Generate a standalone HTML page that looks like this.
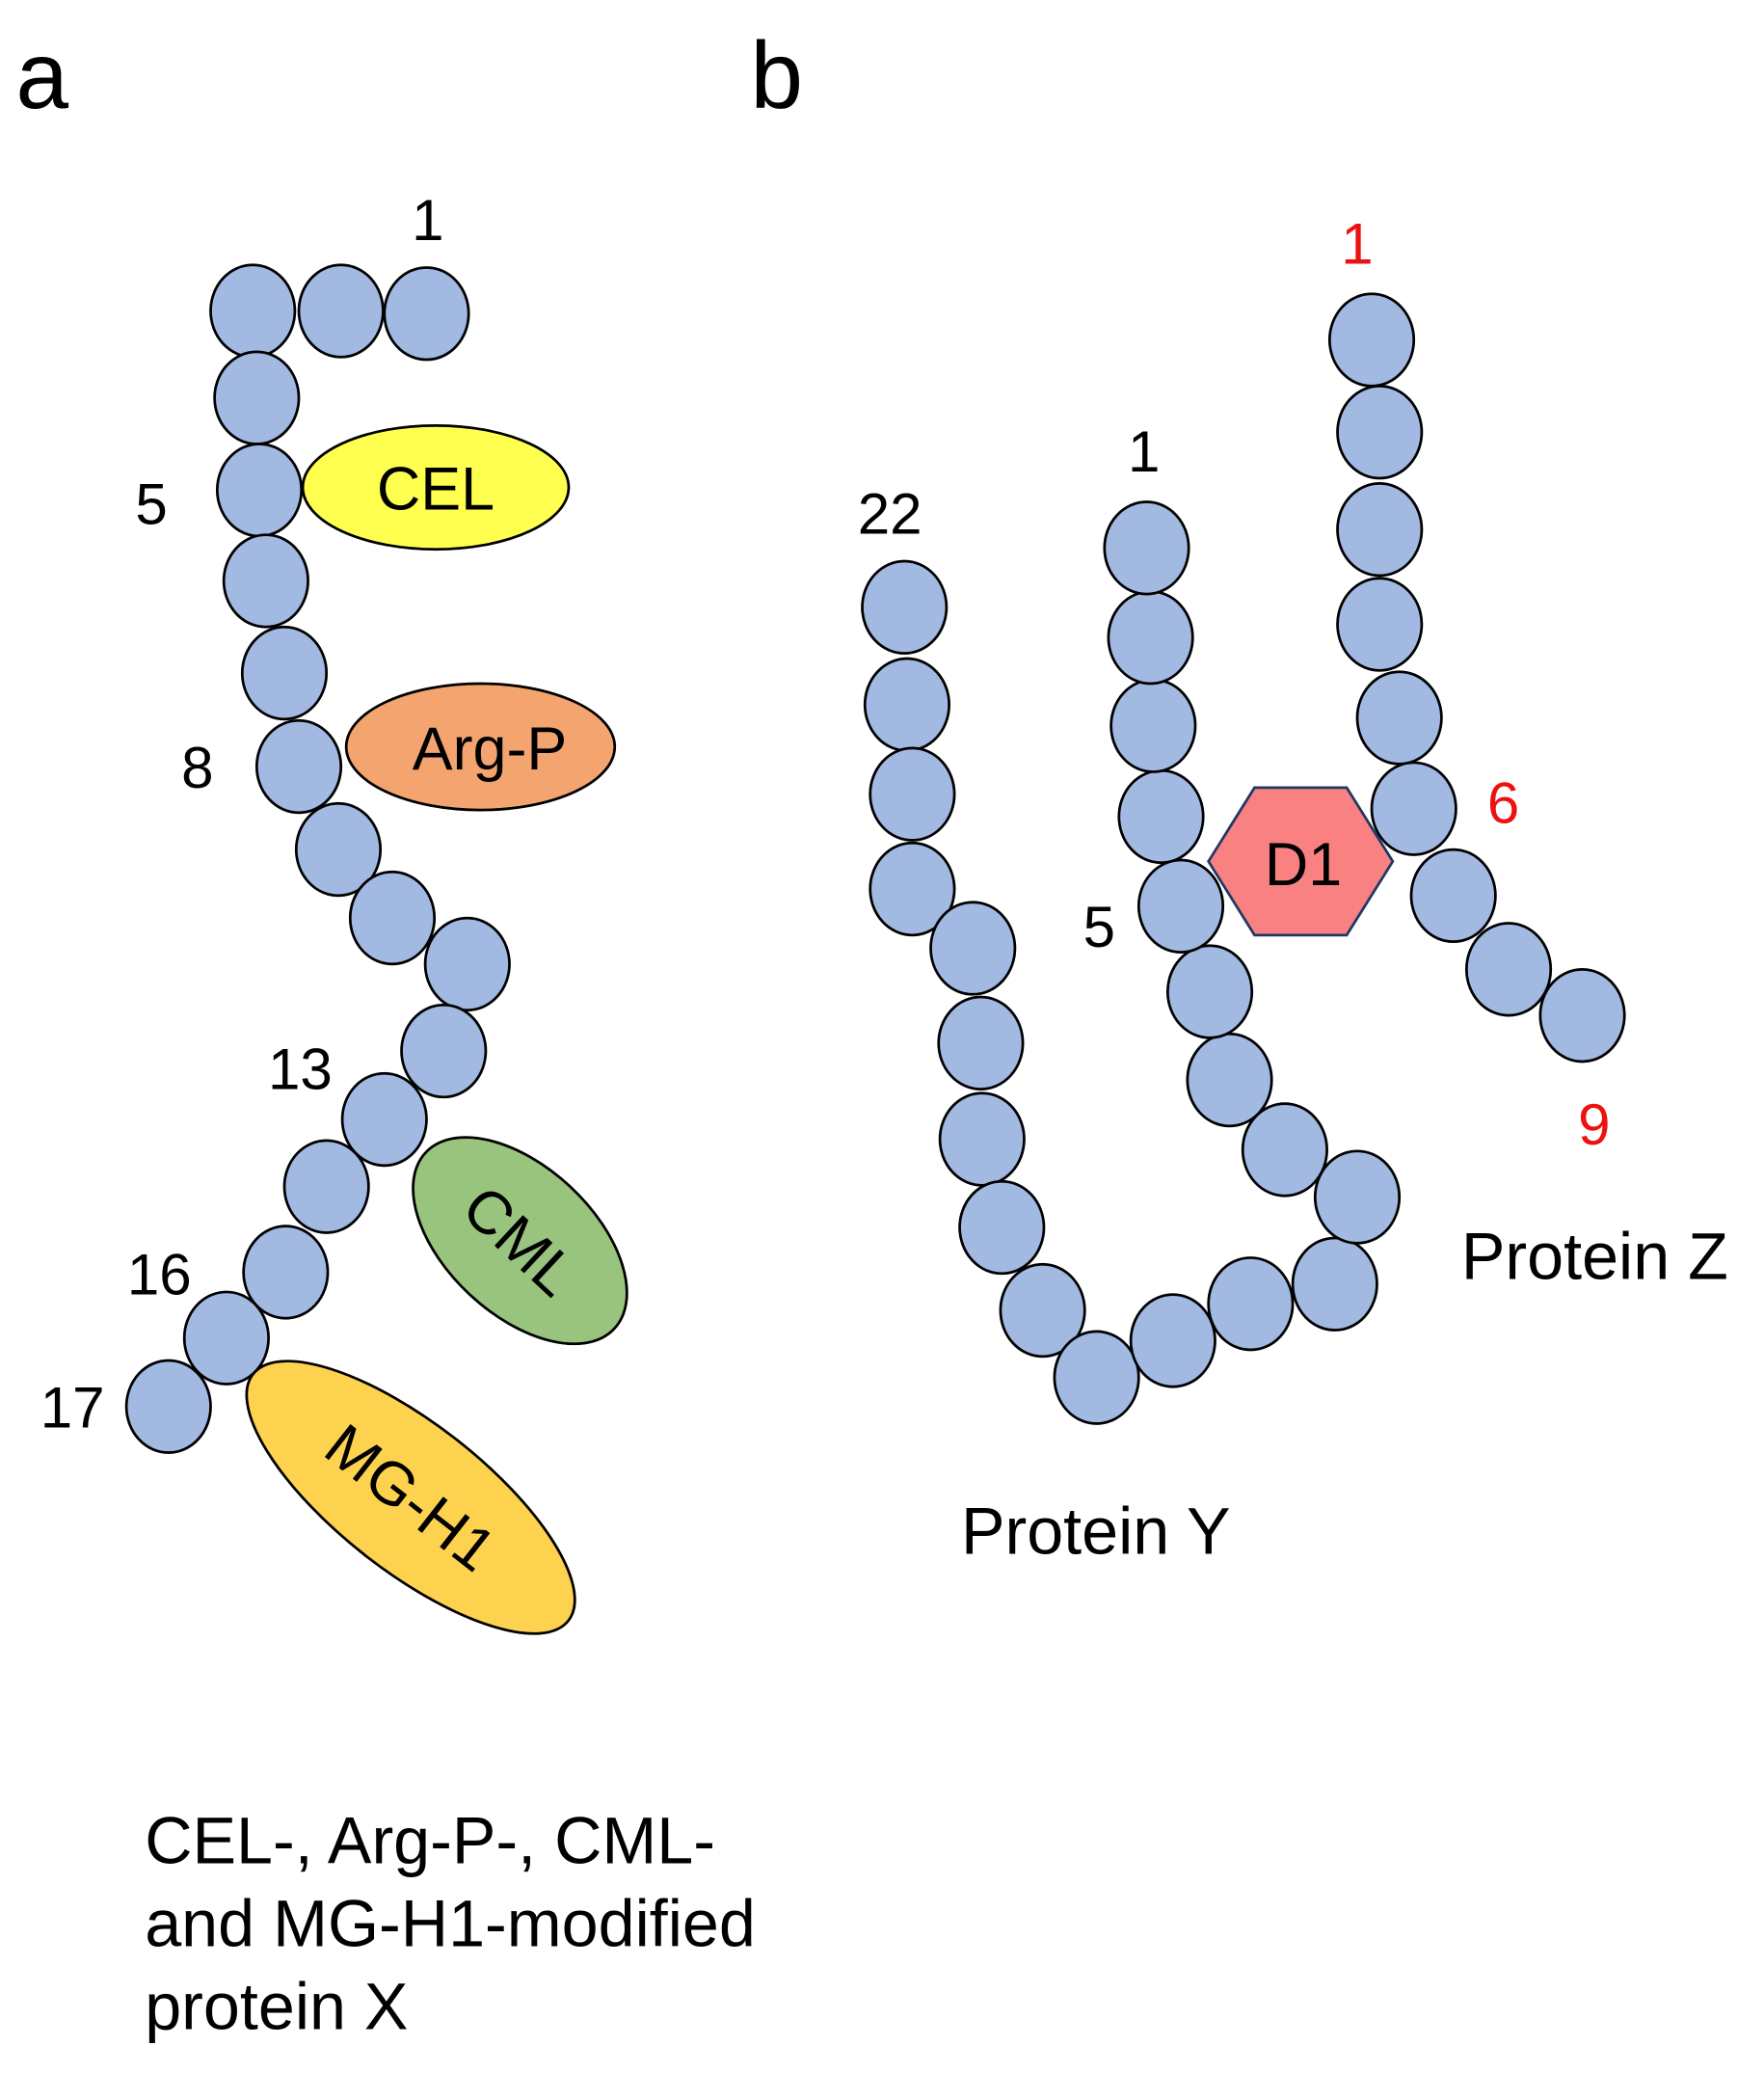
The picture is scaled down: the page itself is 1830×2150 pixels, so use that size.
<!DOCTYPE html>
<html><head><meta charset="utf-8"><style>
html,body{margin:0;padding:0;background:#fff;width:1830px;height:2150px;overflow:hidden}
svg{display:block}
text{font-family:"Liberation Sans",Arial,sans-serif}
</style></head><body>
<svg width="1830" height="2150" viewBox="0 0 1340 1574" xmlns="http://www.w3.org/2000/svg">
<g fill="#a2b9e2" stroke="#000" stroke-width="2">
<!-- protein X -->
<ellipse cx="192" cy="236" rx="32" ry="35"/><ellipse cx="259" cy="236" rx="32" ry="35"/><ellipse cx="324" cy="238" rx="32" ry="35"/>
<ellipse cx="195" cy="302" rx="32" ry="35"/><ellipse cx="197" cy="372" rx="32" ry="35"/><ellipse cx="202" cy="441" rx="32" ry="35"/>
<ellipse cx="216" cy="511" rx="32" ry="35"/><ellipse cx="227" cy="582" rx="32" ry="35"/><ellipse cx="257" cy="645" rx="32" ry="35"/>
<ellipse cx="298" cy="697" rx="32" ry="35"/><ellipse cx="355" cy="732" rx="32" ry="35"/><ellipse cx="337" cy="798" rx="32" ry="35"/>
<ellipse cx="292" cy="850" rx="32" ry="35"/><ellipse cx="248" cy="901" rx="32" ry="35"/><ellipse cx="217" cy="966" rx="32" ry="35"/>
<ellipse cx="172" cy="1016" rx="32" ry="35"/><ellipse cx="128" cy="1068" rx="32" ry="35"/>
<!-- protein Y -->
<ellipse cx="687" cy="461" rx="32" ry="35"/><ellipse cx="689" cy="535" rx="32" ry="35"/><ellipse cx="693" cy="603" rx="32" ry="35"/>
<ellipse cx="693" cy="675" rx="32" ry="35"/><ellipse cx="739" cy="720" rx="32" ry="35"/><ellipse cx="745" cy="792" rx="32" ry="35"/>
<ellipse cx="746" cy="865" rx="32" ry="35"/><ellipse cx="761" cy="932" rx="32" ry="35"/><ellipse cx="792" cy="995" rx="32" ry="35"/>
<ellipse cx="833" cy="1046" rx="32" ry="35"/><ellipse cx="891" cy="1018" rx="32" ry="35"/><ellipse cx="950" cy="990" rx="32" ry="35"/>
<ellipse cx="1014" cy="975" rx="32" ry="35"/><ellipse cx="1031" cy="909" rx="32" ry="35"/><ellipse cx="976" cy="873" rx="32" ry="35"/>
<ellipse cx="934" cy="820" rx="32" ry="35"/><ellipse cx="919" cy="753" rx="32" ry="35"/><ellipse cx="897" cy="688" rx="32" ry="35"/>
<ellipse cx="882" cy="620" rx="32" ry="35"/><ellipse cx="876" cy="551" rx="32" ry="35"/><ellipse cx="874" cy="484" rx="32" ry="35"/>
<ellipse cx="871" cy="416" rx="32" ry="35"/>
<!-- protein Z -->
<ellipse cx="1042" cy="258" rx="32" ry="35"/><ellipse cx="1048" cy="328" rx="32" ry="35"/><ellipse cx="1048" cy="402" rx="32" ry="35"/>
<ellipse cx="1048" cy="474" rx="32" ry="35"/><ellipse cx="1063" cy="545" rx="32" ry="35"/><ellipse cx="1074" cy="614" rx="32" ry="35"/>
<ellipse cx="1104" cy="680" rx="32" ry="35"/><ellipse cx="1146" cy="736" rx="32" ry="35"/><ellipse cx="1202" cy="771" rx="32" ry="35"/>
</g>
<!-- modifications -->
<ellipse cx="331" cy="370" rx="101" ry="47" fill="#ffff50" stroke="#000" stroke-width="2"/>
<text x="331" y="387" font-size="46" text-anchor="middle">CEL</text>
<ellipse cx="365" cy="567" rx="102" ry="48" fill="#f4a56f" stroke="#000" stroke-width="2"/>
<text x="372" y="584" font-size="46" text-anchor="middle">Arg-P</text>
<g transform="translate(395,942) rotate(43)">
<ellipse cx="0" cy="0" rx="98" ry="56" fill="#98c47d" stroke="#000" stroke-width="2"/>
<text x="0" y="16" font-size="46" text-anchor="middle">CML</text></g>
<g transform="translate(312,1137) rotate(38)">
<ellipse cx="0" cy="0" rx="152" ry="56" fill="#fdd24f" stroke="#000" stroke-width="2"/>
<text x="0" y="16" font-size="46" text-anchor="middle">MG-H1</text></g>
<polygon points="918,654 953,598 1023,598 1058,654 1023,710 953,710" fill="#f98181" stroke="#1f3864" stroke-width="2"/>
<text x="990" y="672" font-size="46" text-anchor="middle">D1</text>
<!-- labels -->
<g font-size="44" fill="#000">
<text x="32" y="82" font-size="72" text-anchor="middle">a</text>
<text x="590" y="82" font-size="72" text-anchor="middle">b</text>
<text x="325" y="182" text-anchor="middle">1</text>
<text x="115" y="398" text-anchor="middle">5</text>
<text x="150" y="598" text-anchor="middle">8</text>
<text x="228" y="827" text-anchor="middle">13</text>
<text x="121" y="983" text-anchor="middle">16</text>
<text x="55" y="1084" text-anchor="middle">17</text>
<text x="676" y="405" text-anchor="middle">22</text>
<text x="869" y="358" text-anchor="middle">1</text>
<text x="835" y="719" text-anchor="middle">5</text>
<text x="1031" y="200" text-anchor="middle" fill="#ee1111">1</text>
<text x="1142" y="625" text-anchor="middle" fill="#ee1111">6</text>
<text x="1211" y="869" text-anchor="middle" fill="#ee1111">9</text>
</g>
<g font-size="50" fill="#000">
<text x="1110" y="971">Protein Z</text>
<text x="730" y="1180">Protein Y</text>
<text x="110" y="1415">CEL-, Arg-P-, CML-</text>
<text x="110" y="1478">and MG-H1-modified</text>
<text x="110" y="1541">protein X</text>
</g>
</svg>
</body></html>
